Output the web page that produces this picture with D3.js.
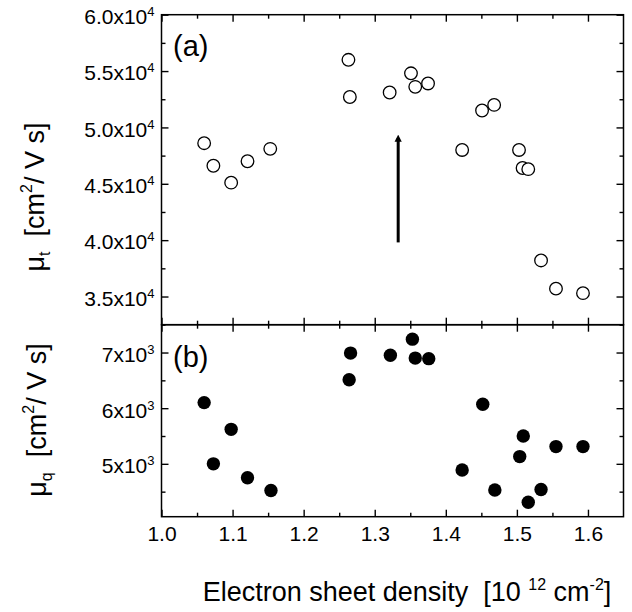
<!DOCTYPE html>
<html>
<head>
<meta charset="utf-8">
<script src="https://d3js.org/d3.v7.min.js"></script>
<style>
  body { margin:0; background:#fff; }
  svg text { font-family: "Liberation Sans", Arial, sans-serif; fill:#000; }
</style>
</head>
<body>
<svg id="chart" width="632" height="612"></svg>
<script>
// electron sheet density [10^12 cm^-2]
var densityA = [1.060, 1.073, 1.098, 1.121, 1.153, 1.263, 1.265, 1.321, 1.351, 1.357,
                1.375, 1.423, 1.451, 1.468, 1.503, 1.508, 1.516, 1.534, 1.555, 1.593];
// transport mobility, units of 10^4 cm2/Vs
var muT = [4.86, 4.66, 4.51, 4.70, 4.81, 5.60, 5.27, 5.31, 5.48, 5.36,
           5.39, 4.80, 5.15, 5.20, 4.80, 4.64, 4.63, 3.82, 3.57, 3.53];

var densityB = [1.060, 1.073, 1.098, 1.121, 1.154, 1.264, 1.266, 1.322, 1.353, 1.357,
                1.376, 1.423, 1.452, 1.469, 1.504, 1.509, 1.516, 1.534, 1.555, 1.593];
// quantum mobility, units of 10^3 cm2/Vs
var muQ = [6.10, 5.00, 5.62, 4.75, 4.52, 6.51, 6.99, 6.95, 7.24, 6.90,
           6.89, 4.89, 6.07, 4.53, 5.13, 5.50, 4.31, 4.54, 5.31, 5.31];

var xTicks = [1.0, 1.1, 1.2, 1.3, 1.4, 1.5, 1.6];
var xMinor = [1.05, 1.15, 1.25, 1.35, 1.45, 1.55];
var yTicksA = [3.5, 4.0, 4.5, 5.0, 5.5, 6.0];
var yMinorA = [3.25, 3.75, 4.25, 4.75, 5.25, 5.75];
var yTicksB = [5, 6, 7];
var yMinorB = [4.5, 5.5, 6.5];

// arrow in panel (a): [x, yFrom, yTo]
var arrowA = [1.333, 3.98, 4.94];

var svg = d3.select("#chart");
var left = 161.5, right = 623.5;
var topA = 14.7, botA = 324.7, botB = 516.7;

var x = d3.scaleLinear().domain([1.0, 1.65]).range([left, right]);
var yA = d3.scaleLinear().domain([3.25, 6.0]).range([botA, topA]);
var yB = d3.scaleLinear().domain([4.05, 7.5]).range([botB, botA]);

function clean(g) {
  g.select(".domain").remove();
  g.selectAll(".tick line").attr("stroke", "#000").attr("stroke-width", 1.4);
  return g;
}

function frameAxes(yScale, yMaj, yMin, top, bottom, labels, expo) {
  // bottom
  var gb = svg.append("g").attr("transform", "translate(0," + bottom + ")")
    .call(d3.axisBottom(x).tickValues(xTicks).tickSizeInner(-7).tickSizeOuter(0).tickPadding(9)
      .tickFormat(labels ? d3.format(".1f") : ""));
  clean(gb).selectAll("text").style("font-size", "21px");
  clean(svg.append("g").attr("transform", "translate(0," + bottom + ")")
    .call(d3.axisBottom(x).tickValues(xMinor).tickSizeInner(-4).tickSizeOuter(0).tickFormat("")));
  // top
  clean(svg.append("g").attr("transform", "translate(0," + top + ")")
    .call(d3.axisTop(x).tickValues(xTicks).tickSizeInner(-7).tickSizeOuter(0).tickFormat("")));
  clean(svg.append("g").attr("transform", "translate(0," + top + ")")
    .call(d3.axisTop(x).tickValues(xMinor).tickSizeInner(-4).tickSizeOuter(0).tickFormat("")));
  // left, labels like 6.0x10^4
  var gl = svg.append("g").attr("transform", "translate(" + left + ",0)")
    .call(d3.axisLeft(yScale).tickValues(yMaj).tickSizeInner(-7).tickSizeOuter(0).tickPadding(7)
      .tickFormat(function (d) { return expo.fmt(d) + "x10"; }));
  clean(gl);
  gl.selectAll(".tick text").style("font-size", "21px").attr("dy", "0.42em")
    .append("tspan").attr("dy", "-8px").style("font-size", "13px").text(expo.pow);
  clean(svg.append("g").attr("transform", "translate(" + left + ",0)")
    .call(d3.axisLeft(yScale).tickValues(yMin).tickSizeInner(-4).tickSizeOuter(0).tickFormat("")));
  // right
  clean(svg.append("g").attr("transform", "translate(" + right + ",0)")
    .call(d3.axisRight(yScale).tickValues(yMaj).tickSizeInner(-7).tickSizeOuter(0).tickFormat("")));
  clean(svg.append("g").attr("transform", "translate(" + right + ",0)")
    .call(d3.axisRight(yScale).tickValues(yMin).tickSizeInner(-4).tickSizeOuter(0).tickFormat("")));

  svg.append("rect")
    .attr("x", left).attr("y", top)
    .attr("width", right - left).attr("height", bottom - top)
    .attr("fill", "none").attr("stroke", "#000").attr("stroke-width", 1.5);
}

frameAxes(yA, yTicksA, yMinorA, topA, botA, false, {fmt: d3.format(".1f"), pow: "4"});
frameAxes(yB, yTicksB, yMinorB, botA, botB, true, {fmt: d3.format("d"), pow: "3"});

// panel (a) open circles
svg.append("g").selectAll("circle")
  .data(d3.zip(densityA, muT))
  .join("circle")
  .attr("cx", function (d) { return x(d[0]); })
  .attr("cy", function (d) { return yA(d[1]); })
  .attr("r", 6.3)
  .attr("fill", "#fff").attr("stroke", "#000").attr("stroke-width", 1.3);

// panel (b) filled circles
svg.append("g").selectAll("circle")
  .data(d3.zip(densityB, muQ))
  .join("circle")
  .attr("cx", function (d) { return x(d[0]); })
  .attr("cy", function (d) { return yB(d[1]); })
  .attr("r", 6.7)
  .attr("fill", "#000");

// arrow
svg.append("defs").append("marker")
  .attr("id", "head").attr("viewBox", "0 0 10 10")
  .attr("refX", 5).attr("refY", 5)
  .attr("markerWidth", 2.4).attr("markerHeight", 3)
  .attr("orient", "auto")
  .append("path").attr("d", "M0,0 L10,5 L0,10 z").attr("fill", "#000");
svg.append("line")
  .attr("x1", x(arrowA[0])).attr("x2", x(arrowA[0]))
  .attr("y1", yA(arrowA[1])).attr("y2", yA(arrowA[2]) + 4)
  .attr("stroke", "#000").attr("stroke-width", 3)
  .attr("marker-end", "url(#head)");

// panel letters
svg.append("text").attr("x", 173).attr("y", 56).style("font-size", "29px").text("(a)");
svg.append("text").attr("x", 173).attr("y", 367).style("font-size", "29px").text("(b)");

// y titles
function yTitle(cx, cy, sub) {
  var t = svg.append("text")
    .attr("transform", "translate(" + cx + "," + cy + ") rotate(-90)")
    .attr("text-anchor", "middle").style("font-size", "27px");
  t.append("tspan").text("\u03bc");
  t.append("tspan").attr("dy", "6px").style("font-size", "16px").text(sub);
  t.append("tspan").attr("dy", "-6px").text("\u00a0\u00a0[cm");
  t.append("tspan").attr("dy", "-12px").style("font-size", "16px").text("2");
  t.append("tspan").attr("dy", "12px").text("/ V s]");
}
yTitle(44, 197, "t");
yTitle(46, 420, "q");

// x title
var xt = svg.append("text").attr("x", 407).attr("y", 601)
  .attr("text-anchor", "middle").style("font-size", "27px");
xt.append("tspan").text("Electron sheet density\u00a0\u00a0[10\u00a0");
xt.append("tspan").attr("dy", "-11px").style("font-size", "16px").text("12");
xt.append("tspan").attr("dy", "11px").text("\u00a0cm");
xt.append("tspan").attr("dy", "-11px").style("font-size", "16px").text("-2");
xt.append("tspan").attr("dy", "11px").text("]");
</script>
</body>
</html>
